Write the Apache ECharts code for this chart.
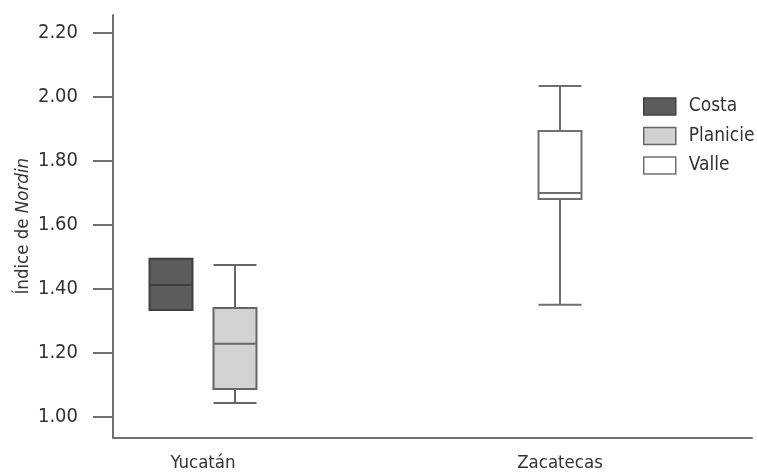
<!DOCTYPE html>
<html><head><meta charset="utf-8">
<script src="https://cdn.jsdelivr.net/npm/echarts@6/dist/echarts.min.js"></script>
<style>html,body{margin:0;padding:0;background:#fff}#c{width:757px;height:476px}</style>
</head><body><div id="c"></div>
<script>
// ---- data ----
const regions = ['Yucatán', 'Zacatecas'];
const zoneNames = ['Costa', 'Planicie', 'Valle'];
// [min, Q1, median, Q3, max] per region (null = no data)
const costa = [[1.334, 1.334, 1.412, 1.494, 1.494], null];
const planicie = [[1.043, 1.087, 1.228, 1.340, 1.475], null];
const valle = [null, [1.350, 1.681, 1.700, 1.894, 2.035]];
const yTicks = [1.00, 1.20, 1.40, 1.60, 1.80, 2.00, 2.20];
const yTitleA = 'Índice de ';
const yTitleB = 'Nordin';

// ---- style ----
const FONT = "'Liberation Sans Narrow','Arial Narrow','DejaVu Sans Condensed',sans-serif";
const TXT = '#333';
const AX = '#6f6f6f';
const zoneStyles = [
  {color: '#5c5c5c', borderColor: '#404040'},
  {color: '#d2d2d2', borderColor: '#666666'},
  {color: '#ffffff', borderColor: '#707070'}
];
const zoneData = [costa, planicie, valle];
const Y_MIN = 0.935, Y_MAX = 2.257;
const TOP = 15, BOTTOM = 38.5;
const regionCenters = [203, 560];
const bandW = 141.6;

const grids = [{left: 113, right: 5, top: TOP, bottom: BOTTOM}];
const xAxes = [{
  type: 'value', gridIndex: 0, min: 0, max: 1,
  axisLine: {show: true, lineStyle: {color: AX, width: 2}},
  axisTick: {show: false}, axisLabel: {show: false}, splitLine: {show: false}
}];
const yAxes = [{
  type: 'value', gridIndex: 0, min: Y_MIN, max: Y_MAX,
  name: '{a|' + yTitleA + '}{b|' + yTitleB + '}',
  nameLocation: 'middle', nameGap: 80, nameMoveOverlap: false,
  nameTextStyle: {
    rich: {
      a: {fontFamily: FONT, fontSize: 18.5, color: TXT},
      b: {fontFamily: FONT, fontSize: 18.5, color: TXT, fontStyle: 'italic'}
    }
  },
  axisLine: {show: true, lineStyle: {color: AX, width: 2}},
  axisTick: {show: true, inside: false, length: 20, customValues: yTicks, lineStyle: {color: AX, width: 2}},
  axisLabel: {customValues: yTicks, margin: 35, fontFamily: FONT, fontSize: 20, color: TXT,
    formatter: v => Number(v).toFixed(2)},
  splitLine: {show: false}
}];
const series = [];
regions.forEach((r, i) => {
  grids.push({left: regionCenters[i] - bandW / 2, width: bandW, top: TOP, bottom: BOTTOM});
  xAxes.push({
    type: 'category', gridIndex: i + 1, data: [r],
    axisLine: {show: false}, axisTick: {show: false},
    axisLabel: {margin: 16, fontFamily: FONT, fontSize: 18.5, color: TXT}
  });
  yAxes.push({type: 'value', gridIndex: i + 1, min: Y_MIN, max: Y_MAX, show: false, splitLine: {show: false}});
  zoneNames.forEach((z, k) => {
    const d = zoneData[k][i];
    if (!d) return;
    series.push({
      name: z, type: 'boxplot', xAxisIndex: i + 1, yAxisIndex: i + 1,
      boxWidth: [43, 43], data: [d],
      itemStyle: {color: zoneStyles[k].color, borderColor: zoneStyles[k].borderColor, borderWidth: 2},
      emphasis: {disabled: true}, silent: true
    });
  });
});

const chart = echarts.init(document.getElementById('c'), null, {renderer: 'canvas'});
chart.setOption({
  animation: false,
  backgroundColor: '#ffffff',
  grid: grids, xAxis: xAxes, yAxis: yAxes,
  legend: {
    data: zoneNames.map((z, k) => ({
      name: z,
      itemStyle: {color: zoneStyles[k].color, borderColor: zoneStyles[k].borderColor, borderWidth: 1.5}
    })),
    orient: 'vertical', left: 643, top: 97, padding: 0,
    itemWidth: 32, itemHeight: 17, itemGap: 10.5, icon: 'rect',
    textStyle: {fontFamily: FONT, fontSize: 19, color: TXT, lineHeight: 17, padding: [0, 0, 0, 8]}
  },
  series: series
});
</script></body></html>
